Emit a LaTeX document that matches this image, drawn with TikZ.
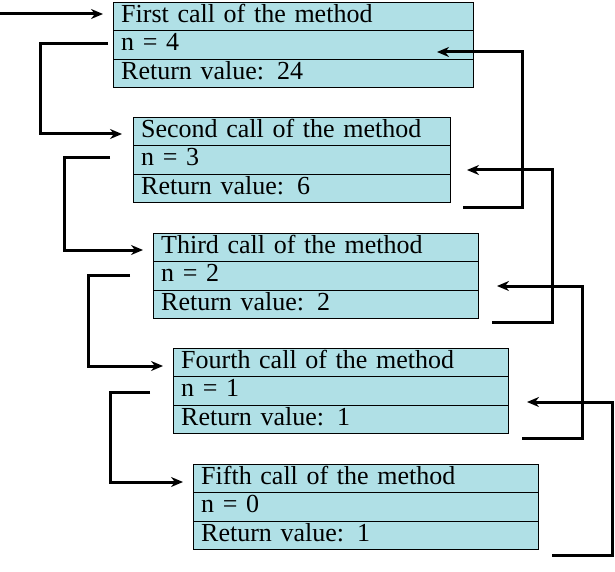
\documentclass[tikz,border=0pt]{standalone}
\usepackage{fontspec}
\setmainfont{Liberation Serif}
\usetikzlibrary{shapes,arrows.meta}
\definecolor{callfill}{RGB}{176,224,230}
\newcommand{\rs}{\rule[-8pt]{0pt}{28pt}}
\begin{document}
\begin{tikzpicture}[x=1pt,y=-1pt,
  call/.style={rectangle split, rectangle split parts=3, draw, fill=callfill,
    anchor=north west, align=left, text width=#1, inner xsep=8pt, inner ysep=0pt,
    font=\fontsize{26}{30}\selectfont},
  link/.style={line width=3pt, -{Stealth[length=12pt,width=10pt]}}]
  \useasboundingbox (0,0) rectangle (615,572);

  \node[call=344pt] (C1) at (113,2) {
    \nodepart{one}\rs First call of the method
    \nodepart{two}\rs n = 4
    \nodepart{three}\rs Return value: 24
  };
  \node[call=301pt] (C2) at (133,117) {
    \nodepart{one}\rs Second call of the method
    \nodepart{two}\rs n = 3
    \nodepart{three}\rs Return value: 6
  };
  \node[call=309pt] (C3) at (153,233) {
    \nodepart{one}\rs Third call of the method
    \nodepart{two}\rs n = 2
    \nodepart{three}\rs Return value: 2
  };
  \node[call=319pt] (C4) at (173,348) {
    \nodepart{one}\rs Fourth call of the method
    \nodepart{two}\rs n = 1
    \nodepart{three}\rs Return value: 1
  };
  \node[call=329pt] (C5) at (193,464) {
    \nodepart{one}\rs Fifth call of the method
    \nodepart{two}\rs n = 0
    \nodepart{three}\rs Return value: 1
  };

  % calls going down
  \coordinate (start) at (0,14);
  \draw[link] (start) -- (103,14);
  \draw[link] (108,44) -| (40,134) -- (122,134);
  \draw[link] (110,158) -| (64,250) -- (143,250);
  \draw[link] (130,275) -| (88,366) -- (163,366);
  \draw[link] (150,392) -| (110,482) -- (183,482);

  % values coming back
  \draw[link] (463,207) -| (522,52) -- (437,52);
  \draw[link] (492,322) -| (552,170) -- (467,170);
  \draw[link] (522,438) -| (582,286) -- (497,286);
  \draw[link] (552,555) -| (612,402) -- (527,402);
\end{tikzpicture}
\end{document}
